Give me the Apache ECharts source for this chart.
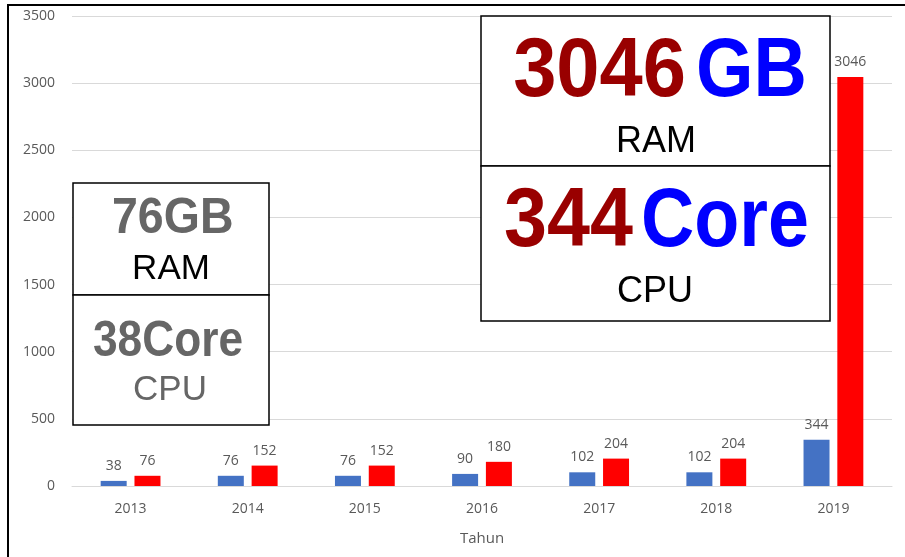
<!DOCTYPE html>
<html>
<head>
<meta charset="utf-8">
<script src="https://cdn.jsdelivr.net/npm/echarts@6/dist/echarts.min.js"></script>
<style>
  html, body { margin: 0; padding: 0; background: #fff; }
  #chart { width: 905px; height: 557px; }
</style>
</head>
<body>
<div id="chart"></div>
<script>
// data
const years = ['2013', '2014', '2015', '2016', '2017', '2018', '2019'];
const cpuCore = [38, 76, 76, 90, 102, 102, 344];
const ramGB = [76, 152, 152, 180, 204, 204, 3046];
const yTicks = { min: 0, max: 3500, step: 500 };

const chart = echarts.init(document.getElementById('chart'));

const labelFont = { fontFamily: 'Open Sans', fontSize: 14, color: '#595959' };
const bigFont = 'Liberation Sans';

// helper for overlay text
const txt = (x, y, text, size, color, align, bold, sx) => ({
  type: 'text', x: x, y: y, z: 10, scaleX: sx || 1,
  style: {
    text: text, fill: color,
    font: (bold ? 'bold ' : '') + size + 'px "' + bigFont + '"',
    textAlign: align || 'center', textVerticalAlign: 'middle'
  }
});

chart.setOption({
  animation: false,
  grid: { left: 72, right: 13, top: 16, bottom: 71 },
  xAxis: {
    type: 'category',
    data: years,
    name: 'Tahun',
    nameLocation: 'middle',
    nameGap: 45,
    nameTextStyle: { fontFamily: 'Open Sans', fontSize: 15, color: '#595959' },
    axisLine: { lineStyle: { color: '#d9d9d9' } },
    axisTick: { show: false },
    axisLabel: { ...labelFont, margin: 16 }
  },
  yAxis: {
    type: 'value',
    min: yTicks.min,
    max: yTicks.max,
    interval: yTicks.step,
    axisLine: { show: false },
    axisTick: { show: false },
    axisLabel: { ...labelFont, margin: 17, formatter: v => String(v) },
    splitLine: { lineStyle: { color: '#d9d9d9' } }
  },
  series: [
    {
      name: 'CPU',
      type: 'bar',
      data: cpuCore,
      barWidth: 26,
      barGap: '30%',
      itemStyle: { color: '#4472C4' },
      label: { show: true, position: 'top', distance: 8, ...labelFont }
    },
    {
      name: 'RAM',
      type: 'bar',
      data: ramGB,
      barWidth: 26,
      barGap: '30%',
      itemStyle: { color: '#FF0000' },
      label: { show: true, position: 'top', distance: 8, ...labelFont }
    }
  ],
  graphic: [
    // outer frame
    { type: 'rect', shape: { x: 8, y: 5, width: 910, height: 570 },
      style: { fill: 'none', stroke: '#000', lineWidth: 2 }, z: 20 },
    // left box
    { type: 'rect', shape: { x: 73, y: 183, width: 196, height: 112 },
      style: { fill: '#fff', stroke: '#000', lineWidth: 1.5 }, z: 9 },
    { type: 'rect', shape: { x: 73, y: 295, width: 196, height: 130 },
      style: { fill: '#fff', stroke: '#000', lineWidth: 1.5 }, z: 9 },
    txt(112, 219, '76GB', 50, '#666666', 'left', true, 0.93),
    txt(171, 269, 'RAM', 35, '#000000'),
    txt(93, 342, '38Core', 50, '#666666', 'left', true, 0.885),
    txt(170, 390, 'CPU', 35, '#666666'),
    // right box
    { type: 'rect', shape: { x: 481, y: 16, width: 349, height: 150 },
      style: { fill: '#fff', stroke: '#000', lineWidth: 1.5 }, z: 9 },
    { type: 'rect', shape: { x: 481, y: 166, width: 349, height: 155 },
      style: { fill: '#fff', stroke: '#000', lineWidth: 1.5 }, z: 9 },
    txt(686, 73, '3046', 84, '#990000', 'right', true, 0.925),
    txt(696, 73, 'GB', 84, '#0000FF', 'left', true, 0.88),
    txt(633, 223, '344', 84, '#990000', 'right', true, 0.92),
    txt(641, 223, 'Core', 84, '#0000FF', 'left', true, 0.878),
    txt(656, 142, 'RAM', 36, '#000000'),
    txt(655, 292, 'CPU', 36, '#000000')
  ]
});
</script>
</body>
</html>
